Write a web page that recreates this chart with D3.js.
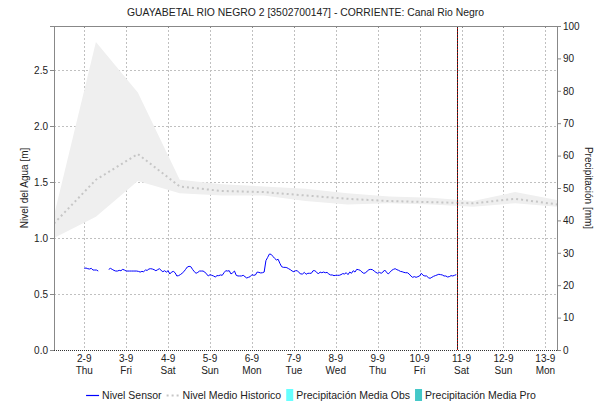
<!DOCTYPE html>
<html>
<head>
<meta charset="utf-8">
<script src="https://cdn.jsdelivr.net/npm/d3@7"></script>
<style>
  html, body { margin: 0; padding: 0; background: #fff; }
  svg { display: block; font-family: "Liberation Sans", Arial, sans-serif; }
</style>
</head>
<body>
<svg id="chart" width="615" height="406"></svg>
<script>
// Station and series descriptions
const title = "GUAYABETAL RIO NEGRO 2 [3502700147] - CORRIENTE: Canal Rio Negro";
const leftAxisTitle = "Nivel del Agua [m]";
const rightAxisTitle = "Precipitación [mm]";
const legendLabels = ["Nivel Sensor", "Nivel Medio Historico", "Precipitación Media Obs", "Precipitación Media Pro"];

// Time window shown (UTC)
const windowStart = Date.UTC(2021, 8, 1, 6, 40);
const windowEnd = Date.UTC(2021, 8, 13, 6, 40);
const nowTime = Date.UTC(2021, 8, 10, 21, 20);

// Historical level statistics, one value per day from windowStart
const histLower = [1.00, 1.19, 1.51, 1.40, 1.38, 1.38, 1.33, 1.30, 1.31, 1.30, 1.28, 1.31, 1.28];
const histMean  = [1.13, 1.52, 1.75, 1.46, 1.42, 1.41, 1.38, 1.35, 1.33, 1.32, 1.31, 1.35, 1.30];
const histUpper = [1.20, 2.75, 2.30, 1.52, 1.48, 1.46, 1.44, 1.40, 1.37, 1.36, 1.33, 1.41, 1.34];

// Hourly sensor level [m] starting 2021-09-02 00:00 (null = no reading)
const sensorStart = Date.UTC(2021, 8, 2, 0, 0);
const sensorLevel = [
  0.729, 0.732, 0.726, 0.723, 0.729, 0.714, 0.714, 0.714, 0.705, null,
  null, null, null, null, 0.720, 0.729, 0.720, 0.711, 0.705, 0.705,
  0.711, 0.708, 0.720, 0.714, 0.705, 0.705, 0.705, 0.705, 0.705, 0.705,
  0.705, 0.702, 0.696, 0.702, 0.699, 0.714, 0.711, 0.723, 0.726, 0.723,
  0.717, 0.708, 0.717, 0.726, 0.711, 0.699, 0.708, 0.696, 0.708, 0.679,
  0.696, 0.702, 0.690, 0.661, 0.664, 0.673, 0.685, 0.699, 0.720, 0.741,
  0.747, 0.744, 0.720, 0.699, 0.685, 0.693, 0.705, 0.705, 0.705, 0.696,
  0.679, 0.661, 0.673, 0.667, 0.661, 0.652, 0.664, 0.664, 0.670, 0.667,
  0.690, 0.708, 0.705, 0.708, 0.679, 0.690, 0.705, 0.667, 0.661, 0.661,
  0.661, 0.667, 0.655, 0.643, 0.649, 0.655, 0.673, 0.667, 0.670, 0.696,
  0.693, 0.688, 0.690, 0.696, 0.798, 0.827, 0.857, 0.854, 0.836, 0.818,
  0.804, 0.810, 0.774, 0.744, 0.738, 0.738, 0.735, 0.726, 0.717, 0.705,
  0.699, 0.708, 0.708, 0.690, 0.679, 0.679, 0.693, 0.676, 0.685, 0.685,
  0.685, 0.708, 0.708, 0.696, 0.679, 0.696, 0.690, 0.696, 0.690, 0.693,
  0.679, 0.670, 0.670, 0.664, 0.667, 0.667, 0.667, 0.673, 0.682, 0.679,
  0.690, 0.673, 0.696, 0.685, 0.708, 0.696, 0.720, 0.717, 0.711, 0.696,
  0.685, 0.688, 0.705, 0.717, 0.720, 0.717, 0.705, 0.693, 0.685, 0.693,
  0.685, 0.696, 0.714, 0.696, 0.679, 0.693, 0.711, 0.720, 0.726, 0.717,
  0.711, 0.702, 0.699, 0.693, 0.690, 0.690, 0.679, 0.661, 0.649, 0.655,
  0.649, 0.655, 0.661, 0.685, 0.667, 0.661, 0.661, 0.646, 0.640, 0.649,
  0.658, 0.664, 0.670, 0.676, 0.673, 0.670, 0.661, 0.661, 0.652, 0.655,
  0.664, 0.661, 0.667, 0.673
];

// Axis ticks
const levelTicks = [0.0, 0.5, 1.0, 1.5, 2.0, 2.5];
const precipTicks = [0, 10, 20, 30, 40, 50, 60, 70, 80, 90, 100];
const levelMax = 2.893;

// Colours
const colSensor = "#0000ff";
const colMean = "#c6c6c6";
const colBand = "#efefef";
const colPrecipObs = "#66ffff";
const colPrecipPro = "#44c8c8";

const W = 615, H = 406;
const margin = { top: 26, right: 58, bottom: 56, left: 54 };
const pw = W - margin.left - margin.right;
const ph = H - margin.top - margin.bottom;

const svg = d3.select("#chart");
const g = svg.append("g").attr("transform", `translate(${margin.left},${margin.top})`);

const x = d3.scaleUtc().domain([windowStart, windowEnd]).range([0, pw]);
const y = d3.scaleLinear().domain([0, levelMax]).range([ph, 0]);
const yP = d3.scaleLinear().domain([0, 100]).range([ph, 0]);

const DAY = 86400000, HOUR = 3600000;
const hist = histMean.map((m, i) => ({ t: windowStart + i * DAY, lo: histLower[i], m, hi: histUpper[i] }));
const sensor = sensorLevel.map((v, i) => ({ t: sensorStart + i * HOUR, v }));
const dayTicks = d3.utcDay.range(new Date(windowStart), new Date(windowEnd));

g.append("clipPath").attr("id", "plotClip")
  .append("rect").attr("width", pw).attr("height", ph);

// Grid
const grid = g.append("g").attr("stroke", "#c0c0c0").attr("stroke-dasharray", "2,2").attr("shape-rendering", "crispEdges");
grid.selectAll("line.h").data(levelTicks.filter(d => d > 0)).join("line")
  .attr("x1", 0).attr("x2", pw)
  .attr("y1", d => Math.round(y(d)) + 0.5).attr("y2", d => Math.round(y(d)) + 0.5);
grid.selectAll("line.v").data(dayTicks).join("line")
  .attr("y1", 0).attr("y2", ph)
  .attr("x1", d => Math.round(x(d)) + 0.5).attr("x2", d => Math.round(x(d)) + 0.5);

const plot = g.append("g").attr("clip-path", "url(#plotClip)");

// Historical range band
plot.append("path").datum(hist)
  .attr("fill", colBand)
  .attr("d", d3.area().x(d => x(d.t)).y0(d => y(d.lo)).y1(d => y(d.hi)));

// Historical mean
plot.append("path").datum(hist)
  .attr("fill", "none").attr("stroke", colMean).attr("stroke-width", 2)
  .attr("stroke-dasharray", "2,3")
  .attr("d", d3.line().x(d => x(d.t)).y(d => y(d.m)));

// Sensor level
plot.append("path").datum(sensor)
  .attr("fill", "none").attr("stroke", colSensor).attr("stroke-width", 1)
  .attr("d", d3.line().defined(d => d.v != null).x(d => x(d.t)).y(d => y(d.v)));

// Current time marker
const nx = Math.round(x(nowTime)) + 0.5;
g.append("line").attr("x1", nx).attr("x2", nx).attr("y1", 0).attr("y2", ph)
  .attr("stroke", "#cc0000").attr("stroke-width", 1);
g.append("line").attr("x1", nx).attr("x2", nx).attr("y1", 0).attr("y2", ph)
  .attr("stroke", "#222").attr("stroke-width", 1).attr("stroke-dasharray", "2,1");

// Left axis
const yAxis = g.append("g")
  .call(d3.axisLeft(y).tickValues(levelTicks).tickFormat(d3.format(".1f")).tickSize(4).tickPadding(2));
// Right axis
const yPAxis = g.append("g").attr("transform", `translate(${pw},0)`)
  .call(d3.axisRight(yP).tickValues(precipTicks).tickSize(4).tickPadding(2));
[yAxis, yPAxis].forEach(a => {
  a.select(".domain").attr("stroke", "#888").attr("shape-rendering", "crispEdges");
  a.selectAll(".tick line").attr("stroke", "#888");
  a.selectAll("text").attr("fill", "#222").style("font-size", "10px").style("font-family", "'Liberation Sans', Arial, sans-serif");
});

// Top border with day ticks
g.append("line").attr("x1", 0).attr("x2", pw).attr("y1", 0.5).attr("y2", 0.5).attr("stroke", "#888");
g.append("g").selectAll("line").data(dayTicks).join("line")
  .attr("x1", d => Math.round(x(d)) + 0.5).attr("x2", d => Math.round(x(d)) + 0.5)
  .attr("y1", 0).attr("y2", 2).attr("stroke", "#888");

// Bottom axis (dotted baseline) with two-line date labels
g.append("line").attr("x1", 0).attr("x2", pw).attr("y1", ph + 0.5).attr("y2", ph + 0.5)
  .attr("stroke", "#333").attr("stroke-dasharray", "1,1");
const fmtDate = d3.utcFormat("%-d-%-m");
const fmtDay = d3.utcFormat("%a");
const xl = g.append("g").selectAll("g").data(dayTicks).join("g")
  .attr("transform", d => `translate(${x(d)},${ph})`);
xl.append("text").attr("y", 12).attr("text-anchor", "middle").style("font-size", "10px").attr("fill", "#222")
  .text(d => fmtDate(d));
xl.append("text").attr("y", 24).attr("text-anchor", "middle").style("font-size", "10px").attr("fill", "#222")
  .text(d => fmtDay(d));

// Titles
svg.append("text").attr("x", margin.left + pw / 2).attr("y", 16).attr("text-anchor", "middle")
  .style("font-size", "10.4px").attr("fill", "#222").text(title);
svg.append("text").attr("transform", `translate(28,${margin.top + ph / 2}) rotate(-90)`)
  .attr("text-anchor", "middle").style("font-size", "10px").attr("fill", "#222").text(leftAxisTitle);
svg.append("text").attr("transform", `translate(585,${margin.top + ph / 2}) rotate(90)`)
  .attr("text-anchor", "middle").style("font-size", "10px").attr("fill", "#222").text(rightAxisTitle);

// Legend
const legend = svg.append("g").attr("transform", "translate(0,395)");
const items = [
  { label: legendLabels[0], kind: "line", color: colSensor },
  { label: legendLabels[1], kind: "dash", color: colMean },
  { label: legendLabels[2], kind: "box", color: colPrecipObs },
  { label: legendLabels[3], kind: "box", color: colPrecipPro }
];
const itemGroups = items.map(it => {
  const ig = legend.append("g");
  let sw;
  if (it.kind === "box") {
    ig.append("rect").attr("x", 0).attr("y", -6).attr("width", 7).attr("height", 12).attr("fill", it.color);
    sw = 10;
  } else {
    ig.append("line").attr("x1", 0).attr("x2", 13).attr("y1", 0.5).attr("y2", 0.5)
      .attr("stroke", it.color).attr("stroke-width", it.kind === "dash" ? 2 : 1.2)
      .attr("stroke-dasharray", it.kind === "dash" ? "2,3" : null);
    sw = 16;
  }
  const t = ig.append("text").attr("x", sw).attr("y", 4).style("font-size", "10.5px").attr("fill", "#222").text(it.label);
  const w = sw + t.node().getComputedTextLength();
  return { ig, w };
});
const gap = 5;
const total = d3.sum(itemGroups, d => d.w) + gap * (itemGroups.length - 1);
let lx = 311 - total / 2;
itemGroups.forEach(d => { d.ig.attr("transform", `translate(${lx},0)`); lx += d.w + gap; });
</script>
</body>
</html>
